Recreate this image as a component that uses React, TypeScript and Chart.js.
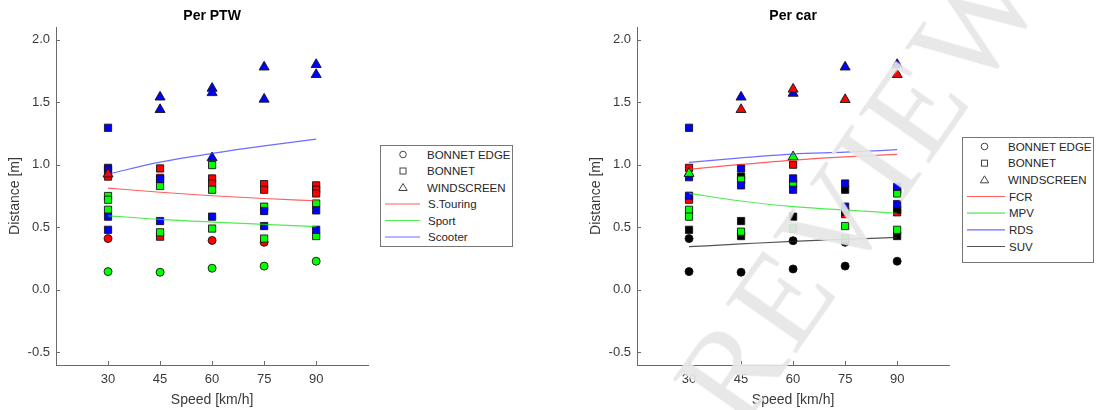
import React, { useEffect, useRef } from "react";
import { Chart, registerables } from "chart.js";

Chart.register(...registerables);

// ---------- shared axes ----------
const speedTicks = [30, 45, 60, 75, 90];
const distanceTicks = [-0.5, 0.0, 0.5, 1.0, 1.5, 2.0];

// ---------- Per PTW (colour = PTW type) ----------
const ptwSTouringEdge = [[30, 0.41], [60, 0.395], [75, 0.38]];
const ptwSTouringBonnet = [[30, 0.905], [45, 0.97], [45, 0.895], [45, 0.425], [60, 0.89], [60, 0.85], [75, 0.845], [75, 0.80], [90, 0.835], [90, 0.80], [90, 0.77]];
const ptwSTouringWindscreen = [[30, 0.925]];
const ptwSportEdge = [[30, 0.146], [45, 0.141], [60, 0.173], [75, 0.19], [90, 0.229]];
const ptwSportBonnet = [[30, 0.75], [30, 0.72], [30, 0.64], [45, 0.83], [45, 0.46], [60, 0.997], [60, 0.80], [60, 0.49], [75, 0.665], [75, 0.41], [90, 0.69], [90, 0.43]];
const ptwScooterBonnet = [[30, 1.295], [30, 0.975], [30, 0.96], [30, 0.585], [30, 0.48], [45, 0.885], [45, 0.55], [60, 0.585], [75, 0.63], [75, 0.51], [90, 0.635], [90, 0.48]];
const ptwScooterWindscreen = [[45, 1.54], [45, 1.44], [60, 1.61], [60, 1.575], [60, 1.055], [75, 1.78], [75, 1.523], [90, 1.80], [90, 1.72]];
const ptwSTouringFit = [0.813, 0.78, 0.752, 0.73, 0.712];
const ptwSportFit = [0.592, 0.563, 0.542, 0.524, 0.505];
const ptwScooterFit = [0.925, 1.02, 1.09, 1.15, 1.204];

// ---------- Per car (colour = car type) ----------
const carFcrBonnet = [[30, 0.975], [30, 0.72], [60, 1.0], [75, 0.605], [90, 0.80], [90, 0.62]];
const carFcrWindscreen = [[45, 1.44], [60, 1.603], [75, 1.52], [90, 1.72]];
const carMpvBonnet = [[30, 0.64], [30, 0.585], [45, 0.88], [45, 0.465], [60, 0.85], [60, 0.49], [75, 0.51], [75, 0.41], [90, 0.77], [90, 0.48]];
const carMpvWindscreen = [[30, 0.93], [60, 1.063]];
const carRdsBonnet = [[30, 1.295], [30, 0.90], [30, 0.752], [45, 0.97], [45, 0.835], [60, 0.89], [60, 0.80], [75, 0.85], [75, 0.665], [90, 0.824], [90, 0.686]];
const carRdsWindscreen = [[45, 1.54], [60, 1.57], [75, 1.78], [90, 1.80]];
const carSuvEdge = [[30, 0.41], [30, 0.146], [45, 0.141], [60, 0.393], [60, 0.167], [75, 0.38], [75, 0.19], [90, 0.229]];
const carSuvBonnet = [[30, 0.48], [45, 0.905], [45, 0.55], [45, 0.43], [60, 0.585], [75, 0.80], [75, 0.625], [90, 0.64], [90, 0.43]];
const carFcrFit = [0.963, 1.002, 1.037, 1.063, 1.082];
const carMpvFit = [0.771, 0.71, 0.665, 0.638, 0.612];
const carRdsFit = [1.018, 1.055, 1.085, 1.10, 1.12];
const carSuvFit = [0.345, 0.367, 0.388, 0.404, 0.42];

// ---------- legend text ----------
const markerLegend = ["BONNET EDGE", "BONNET", "WINDSCREEN"];
const ptwLegend = ["S.Touring", "Sport", "Scooter"];
const carLegend = ["FCR", "MPV", "RDS", "SUV"];
const watermark = "REVIEWER";

const RED = "#ff0000";
const GREEN = "#00ff00";
const BLUE = "#0000ff";
const BLACK = "#000000";
const FONT = "'Liberation Sans', Arial, Helvetica, sans-serif";
const AXIS = "#6a6a6a";
const TEXT = "#3a3a3a";
const LINE_RED = "rgba(255,40,40,0.75)";
const LINE_GREEN = "rgba(20,230,20,0.75)";
const LINE_BLUE = "rgba(60,60,255,0.75)";
const LINE_BLACK = "rgba(40,40,40,0.8)";

type Pair = number[];

function markers(label: string, data: Pair[], color: string, shape: string) {
  const radius = shape === "circle" ? 4 : shape === "rect" ? 5.1 : 5.8;
  return {
    type: "scatter",
    label,
    data: data.map(([x, y]) => ({ x, y })),
    pointStyle: shape,
    pointRadius: radius,
    pointHoverRadius: radius,
    backgroundColor: color,
    borderColor: "rgba(20,20,20,0.9)",
    borderWidth: 1,
    showLine: false,
  };
}

function fit(label: string, values: number[], color: string) {
  return {
    type: "line",
    label,
    data: speedTicks.map((x, i) => ({ x, y: values[i] })),
    borderColor: color,
    borderWidth: 1.2,
    pointRadius: 0,
    cubicInterpolationMode: "monotone",
    fill: false,
  };
}

function stack(list: any[]) {
  // first item in list is drawn at the bottom
  const n = list.length;
  return list.map((d, i) => ({ ...d, order: n - i }));
}

const inwardTicks = {
  id: "inwardTicks",
  afterDatasetsDraw(chart: any) {
    const { ctx, chartArea, scales } = chart;
    const x = scales.x;
    const y = scales.y;
    ctx.save();
    ctx.strokeStyle = AXIS;
    ctx.lineWidth = 1;
    ctx.beginPath();
    for (const v of distanceTicks) {
      const py = Math.round(y.getPixelForValue(v)) + 0.5;
      ctx.moveTo(chartArea.left, py);
      ctx.lineTo(chartArea.left + 4, py);
    }
    for (const v of speedTicks) {
      const px = Math.round(x.getPixelForValue(v)) + 0.5;
      ctx.moveTo(px, chartArea.bottom);
      ctx.lineTo(px, chartArea.bottom - 4);
    }
    ctx.stroke();
    ctx.restore();
  },
};

function makeConfig(title: string, datasets: any[]) {
  return {
    type: "scatter",
    data: { datasets },
    options: {
      responsive: false,
      animation: false,
      devicePixelRatio: 1,
      layout: { padding: { left: 0, right: 6, top: 0, bottom: 0 } },
      plugins: {
        legend: { display: false },
        tooltip: { enabled: false },
        title: {
          display: true,
          text: title,
          fullSize: false,
          color: "#000",
          font: { family: FONT, size: 14, weight: "bold", lineHeight: 1 },
          padding: { top: 9, bottom: 4 },
        },
      },
      scales: {
        x: {
          type: "linear",
          min: 15,
          max: 105,
          afterBuildTicks: (s: any) => {
            s.ticks = speedTicks.map((v) => ({ value: v }));
          },
          afterFit: (s: any) => {
            s.height = 45;
          },
          grid: { display: false, drawTicks: false },
          border: { display: true, color: AXIS, width: 1 },
          ticks: {
            padding: 7,
            color: TEXT,
            font: { family: FONT, size: 13 },
            callback: (v: any) => String(v),
          },
          title: {
            display: true,
            text: "Speed [km/h]",
            color: TEXT,
            font: { family: FONT, size: 14, lineHeight: 1 },
            padding: { top: 0, bottom: 3 },
          },
        },
        y: {
          type: "linear",
          min: -0.6,
          max: 2.1,
          afterBuildTicks: (s: any) => {
            s.ticks = distanceTicks.map((v) => ({ value: v }));
          },
          afterFit: (s: any) => {
            s.width = 56;
          },
          grid: { display: false, drawTicks: false },
          border: { display: true, color: AXIS, width: 1 },
          ticks: {
            padding: 6,
            color: TEXT,
            font: { family: FONT, size: 13 },
            callback: (v: any) => Number(v).toFixed(1),
          },
          title: {
            display: true,
            text: "Distance [m]",
            color: TEXT,
            font: { family: FONT, size: 14, lineHeight: 1 },
            padding: { top: 8, bottom: 0 },
          },
        },
      },
    },
    plugins: [inwardTicks],
  };
}

function ChartCanvas({ config, left, width }: { config: any; left: number; width: number }) {
  const ref = useRef<HTMLCanvasElement | null>(null);
  useEffect(() => {
    if (!ref.current) return;
    const chart = new Chart(ref.current, config);
    return () => chart.destroy();
  }, [config]);
  return (
    <canvas
      ref={ref}
      width={width}
      height={410}
      style={{ position: "absolute", left, top: 0, width, height: 410 }}
    />
  );
}

function Legend({
  x, y, w, h, rowH, symX, lineX0, lineX1, textX, lines,
}: {
  x: number; y: number; w: number; h: number; rowH: number; symX: number;
  lineX0: number; lineX1: number; textX: number; lines: { label: string; color: string }[];
}) {
  const firstY = y + 9.5;
  const rows: any[] = [];
  markerLegend.forEach((label, i) => {
    const cy = firstY + i * rowH;
    let sym;
    if (i === 0) sym = <circle cx={symX} cy={cy} r={3.3} fill="none" stroke="#444" strokeWidth={1} />;
    else if (i === 1) sym = <rect x={symX - 3} y={cy - 3} width={6} height={6} fill="none" stroke="#444" strokeWidth={1} />;
    else sym = <polygon points={`${symX},${cy - 4} ${symX + 4.2},${cy + 3} ${symX - 4.2},${cy + 3}`} fill="none" stroke="#444" strokeWidth={1} />;
    rows.push(
      <g key={label}>
        {sym}
        <text x={textX} y={cy} dominantBaseline="central" fontFamily={FONT} fontSize={11.5} fill="#262626">{label}</text>
      </g>
    );
  });
  lines.forEach((l, j) => {
    const cy = firstY + (3 + j) * rowH;
    rows.push(
      <g key={l.label}>
        <line x1={lineX0} y1={cy} x2={lineX1} y2={cy} stroke={l.color} strokeWidth={1.2} />
        <text x={textX + 1} y={cy} dominantBaseline="central" fontFamily={FONT} fontSize={11.5} fill="#262626">{l.label}</text>
      </g>
    );
  });
  return (
    <g>
      <rect x={x + 0.5} y={y + 0.5} width={w} height={h} fill="#fff" stroke="#777" strokeWidth={1} />
      {rows}
    </g>
  );
}

const ptwDatasets = stack([
  markers("S.Touring edge", ptwSTouringEdge, RED, "circle"),
  markers("Sport edge", ptwSportEdge, GREEN, "circle"),
  markers("S.Touring bonnet", ptwSTouringBonnet, RED, "rect"),
  markers("Sport bonnet", ptwSportBonnet, GREEN, "rect"),
  markers("Scooter bonnet", ptwScooterBonnet, BLUE, "rect"),
  markers("Scooter windscreen", ptwScooterWindscreen, BLUE, "triangle"),
  markers("S.Touring windscreen", ptwSTouringWindscreen, RED, "triangle"),
  fit("S.Touring", ptwSTouringFit, LINE_RED),
  fit("Sport", ptwSportFit, LINE_GREEN),
  fit("Scooter", ptwScooterFit, LINE_BLUE),
]);

const carDatasets = stack([
  markers("SUV edge", carSuvEdge, BLACK, "circle"),
  markers("FCR bonnet", carFcrBonnet, RED, "rect"),
  markers("SUV bonnet", carSuvBonnet, BLACK, "rect"),
  markers("MPV bonnet", carMpvBonnet, GREEN, "rect"),
  markers("RDS bonnet", carRdsBonnet, BLUE, "rect"),
  markers("RDS windscreen", carRdsWindscreen, BLUE, "triangle"),
  markers("FCR windscreen", carFcrWindscreen, RED, "triangle"),
  markers("MPV windscreen", carMpvWindscreen, GREEN, "triangle"),
  fit("FCR", carFcrFit, LINE_RED),
  fit("MPV", carMpvFit, LINE_GREEN),
  fit("RDS", carRdsFit, LINE_BLUE),
  fit("SUV", carSuvFit, LINE_BLACK),
]);

const ptwConfig = makeConfig("Per PTW", ptwDatasets);
const carConfig = makeConfig("Per car", carDatasets);

export default function App() {
  return (
    <div
      style={{
        position: "fixed",
        left: 0,
        top: 0,
        width: 1097,
        height: 410,
        background: "#fff",
        overflow: "hidden",
      }}
    >
      <ChartCanvas config={ptwConfig} left={0} width={375} />
      <ChartCanvas config={carConfig} left={581} width={375} />
      <svg
        width={1097}
        height={410}
        style={{ position: "absolute", left: 0, top: 0, pointerEvents: "none" }}
      >
        <Legend
          x={380} y={145} w={132} h={101} rowH={16.5} symX={403}
          lineX0={385} lineX1={420} textX={427}
          lines={[
            { label: ptwLegend[0], color: LINE_RED },
            { label: ptwLegend[1], color: LINE_GREEN },
            { label: ptwLegend[2], color: LINE_BLUE },
          ]}
        />
        <Legend
          x={962} y={137} w={131} h={125} rowH={16.67} symX={984.5}
          lineX0={967} lineX1={1005} textX={1008}
          lines={[
            { label: carLegend[0], color: LINE_RED },
            { label: carLegend[1], color: LINE_GREEN },
            { label: carLegend[2], color: LINE_BLUE },
            { label: carLegend[3], color: LINE_BLACK },
          ]}
        />
        <text
          x={741}
          y={432}
          transform="rotate(-55 741 432)"
          fontFamily="'Liberation Serif', 'Times New Roman', serif"
          fontSize={132}
          letterSpacing={4}
          fill="#e6e6e6"
          fillOpacity={0.92}
        >
          {watermark}
        </text>
      </svg>
    </div>
  );
}
